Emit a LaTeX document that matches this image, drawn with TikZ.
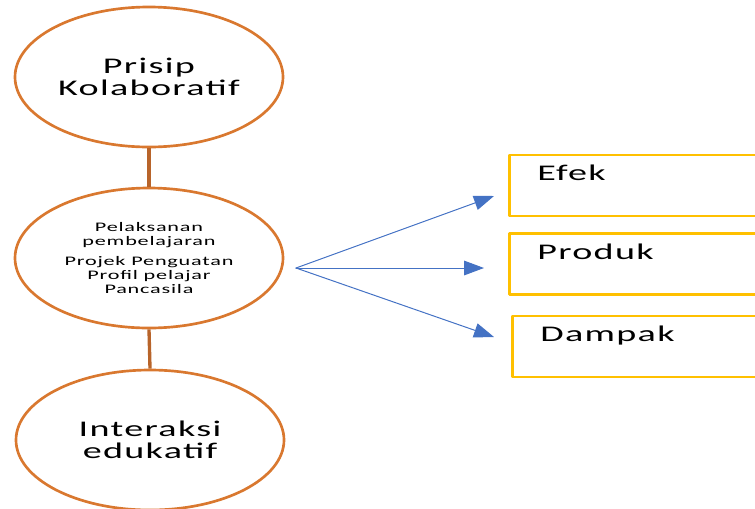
\documentclass[tikz,border=0pt]{standalone}
\usepackage{fontspec}
\usetikzlibrary{arrows.meta,shapes.geometric}
\newfontfamily\diafont[FakeStretch=1.7,LetterSpace=6]{Carlito}
\definecolor{oranye}{HTML}{D9782F}
\definecolor{coklat}{HTML}{B8642A}
\definecolor{biru}{HTML}{4472C4}
\definecolor{emas}{HTML}{FFC000}

\begin{document}
\begin{tikzpicture}[line cap=round,line join=round,x=0.75pt,y=-0.75pt,
	bulat/.style={ellipse,draw=oranye,line width=2pt,minimum width=201pt,minimum height=105pt,inner sep=0pt,align=center},
	kotak/.style={rectangle,draw=emas,line width=2.2pt,line cap=butt,minimum width=240pt,minimum height=45.75pt,anchor=west},
	besar/.style={font=\diafont\fontsize{16.8}{16.5}\selectfont},
	kecil/.style={font=\diafont\fontsize{9.8}{10.5}\selectfont},
	panah/.style={draw=biru,line width=0.75pt,-{Triangle[length=15pt,width=11pt]}},
	sambung/.style={draw=coklat,line width=2.5pt,line cap=butt}]
	\useasboundingbox (0,0) rectangle (755,508);
	\clip (0,0) rectangle (755,508);
	% lingkaran kiri
	\node [bulat,besar] (prisip) at (149,77) {Prisip\\Kolaboratif};
	\node [bulat,kecil] (pelaksanan) at (149,258) {Pelaksanan\\pembelajaran\\[4.5pt]Projek Penguatan\\Profil pelajar\\Pancasila};
	\node [bulat,besar] (interaksi) at (150,440) {Interaksi\\edukatif};
	\draw [sambung] (prisip.south) -- (pelaksanan.north);
	\draw [sambung] (pelaksanan.south) -- (interaksi.north);
	% kotak kanan
	\node [kotak] (efek) at (508,185.5) {};
	\node [kotak] (produk) at (508,264) {};
	\node [kotak] (dampak) at (511,346.5) {};
	\node [besar,anchor=base west,inner sep=0pt] (tefek) at ([xshift=21.75pt,yshift=-20.25pt]efek.north west) {Efek};
	\node [besar,anchor=base west,inner sep=0pt] (tproduk) at ([xshift=21.75pt,yshift=-20.75pt]produk.north west) {Produk};
	\node [besar,anchor=base west,inner sep=0pt] (tdampak) at ([xshift=21.75pt,yshift=-20pt]dampak.north west) {Dampak};
	% panah
	\coordinate (pangkal) at (296,268);
	\coordinate (ujung1) at (494,196);
	\coordinate (ujung2) at (484,268);
	\coordinate (ujung3) at (494,337);
	\draw [panah] (pangkal) -- (ujung1);
	\draw [panah] (pangkal) -- (ujung2);
	\draw [panah] (pangkal) -- (ujung3);
\end{tikzpicture}
\end{document}
